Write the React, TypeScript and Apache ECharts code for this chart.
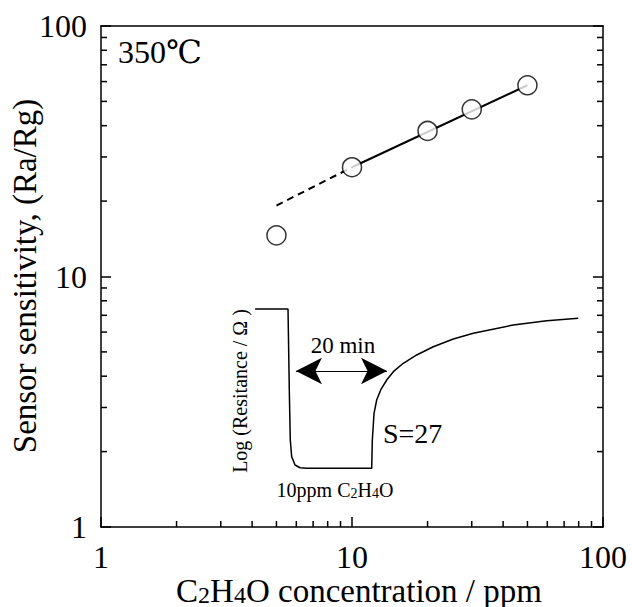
import React, { useEffect, useRef } from "react";
import * as echarts from "echarts";

// Measured sensitivity data
const concentration = [5, 10, 20, 30, 50];
const sensitivity = [14.6, 27.3, 38.1, 46.5, 58.0];
// Fit line (solid part and dashed extrapolation)
const fitSolidX = [10, 50];
const fitSolidY = [27.3, 58.0];
const fitDashedX = [5, 10];
const fitDashedY = [19.2, 27.3];
// Inset: schematic resistance response to 10 ppm C2H4O
const responseX = [4.11, 5.56, 5.574, 5.626, 5.677, 5.75, 5.93, 6.21, 6.6, 11.98, 12.05, 12.24, 12.54, 13.01, 13.75, 14.61, 16.01, 18.1, 21.08, 25.33, 30.43, 43.91, 59.67, 79.7];
const responseY = [7.42, 7.42, 7.42, 3.52, 2.225, 1.908, 1.768, 1.724, 1.715, 1.715, 2.225, 2.844, 3.214, 3.524, 3.862, 4.169, 4.503, 4.861, 5.245, 5.63, 5.934, 6.404, 6.66, 6.81];
// Arrow "20 min"
const arrowX = [5.98, 13.79];
const arrowY = 4.196;
// Axis ticks
const axisMin = 1;
const axisMax = 100;
const minorTicks = [2, 3, 4, 5, 6, 7, 8, 9, 20, 30, 40, 50, 60, 70, 80, 90];

const FONT = "'Liberation Serif', 'Times New Roman', serif";

export default function App() {
  const ref = useRef<HTMLDivElement>(null);
  useEffect(() => {
    if (!ref.current) return;
    const chart = echarts.init(ref.current, undefined, { renderer: "svg" });
    const axisLine = { show: true, lineStyle: { color: "#000", width: 1.5 } };
    const label = { fontSize: 32, fontFamily: FONT, color: "#000" };
    const tickLine = (dx: number, dy: number, mode: string) => (params: any, api: any) => {
      const v = mode === "x" ? api.value(0) : api.value(1);
      const p = mode === "x" ? api.coord([v, axisMin]) : mode === "l" ? api.coord([axisMin, v]) : api.coord([axisMax, v]);
      return {
        type: "line",
        shape: { x1: p[0], y1: p[1], x2: p[0] + dx, y2: p[1] + dy },
        style: { stroke: "#000", lineWidth: 1.5 },
      };
    };
    chart.setOption({
      animation: false,
      backgroundColor: "#fff",
      grid: { left: 101, right: 29, top: 26, bottom: 80 },
      xAxis: [
        {
          type: "log", logBase: 10, min: axisMin, max: axisMax, position: "bottom",
          axisLine, axisTick: { show: true, inside: true, length: 10, lineStyle: { color: "#000", width: 1.5 } },
          axisLabel: { ...label, margin: 14 }, splitLine: { show: false }, minorTick: { show: false },
        },
        {
          type: "log", logBase: 10, min: axisMin, max: axisMax, position: "top",
          axisLine, axisTick: { show: false }, axisLabel: { show: false }, splitLine: { show: false },
        },
      ],
      yAxis: [
        {
          type: "log", logBase: 10, min: axisMin, max: axisMax, position: "left",
          axisLine, axisTick: { show: true, inside: true, length: 10, lineStyle: { color: "#000", width: 1.5 } },
          axisLabel: { ...label, margin: 14 }, splitLine: { show: false },
        },
        {
          type: "log", logBase: 10, min: axisMin, max: axisMax, position: "right",
          axisLine, axisTick: { show: true, inside: true, length: 10, lineStyle: { color: "#000", width: 1.5 } },
          axisLabel: { show: false }, splitLine: { show: false },
        },
      ],
      series: [
        {
          type: "custom", silent: true, clip: false, xAxisIndex: 0, yAxisIndex: 0,
          data: minorTicks.map((v) => [v, axisMin]),
          renderItem: tickLine(0, -6, "x"),
        },
        {
          type: "custom", silent: true, clip: false, xAxisIndex: 0, yAxisIndex: 0,
          data: minorTicks.map((v) => [axisMin, v]),
          renderItem: tickLine(6, 0, "l"),
        },
        {
          type: "custom", silent: true, clip: false, xAxisIndex: 0, yAxisIndex: 0,
          data: minorTicks.map((v) => [axisMax, v]),
          renderItem: tickLine(-6, 0, "r"),
        },
        {
          type: "line", silent: true, showSymbol: false, xAxisIndex: 0, yAxisIndex: 0,
          data: responseX.map((x, i) => [x, responseY[i]]),
          lineStyle: { color: "#000", width: 1.5 },
          markLine: {
            silent: true,
            symbol: ["arrow", "arrow"],
            symbolSize: [20, 26],
            label: { show: false },
            lineStyle: { color: "#000", width: 1, type: "solid" },
            data: [[{ coord: [arrowX[0], arrowY] }, { coord: [arrowX[1], arrowY] }]],
          },
        },
        {
          type: "line", silent: true, showSymbol: false,
          data: fitDashedX.map((x, i) => [x, fitDashedY[i]]),
          lineStyle: { color: "#000", width: 2, type: [7, 5] },
        },
        {
          type: "line", silent: true, showSymbol: false,
          data: fitSolidX.map((x, i) => [x, fitSolidY[i]]),
          lineStyle: { color: "#000", width: 2 },
        },
        {
          type: "scatter", silent: true, z: 5,
          data: concentration.map((x, i) => [x, sensitivity[i]]),
          symbol: "circle", symbolSize: 19,
          itemStyle: { color: "#fff", borderColor: "#000", borderWidth: 1.5 },
        },
      ],
      graphic: [
        {
          type: "text", x: 118, y: 52,
          style: {
            text: "{a|350}{b|℃}", verticalAlign: "middle", align: "left", fill: "#000",
            rich: {
              a: { fontSize: 32, fontFamily: FONT, fill: "#000" },
              b: { fontSize: 32, fontFamily: "'DejaVu Serif', " + FONT, fill: "#000" },
            },
          },
        },
        {
          type: "text", x: 25, y: 276, rotation: Math.PI / 2,
          style: { text: "Sensor sensitivity, (Ra/Rg)", fontSize: 33, fontFamily: FONT, fill: "#000", align: "center", verticalAlign: "middle" },
        },
        {
          type: "text", x: 359, y: 590,
          style: {
            text: "{a|C}{s|2}{a|H}{s|4}{a|O concentration / ppm}",
            align: "center", verticalAlign: "middle", fill: "#000",
            rich: {
              a: { fontSize: 33, fontFamily: FONT, fill: "#000", verticalAlign: "bottom", lineHeight: 34 },
              s: { fontSize: 24, fontFamily: FONT, fill: "#000", verticalAlign: "bottom", lineHeight: 27 },
            },
          },
        },
        {
          type: "text", x: 343, y: 345,
          style: { text: "20 min", fontSize: 23, fontFamily: FONT, fill: "#000", align: "center", verticalAlign: "middle" },
        },
        {
          type: "text", x: 383, y: 433,
          style: { text: "S=27", fontSize: 28, fontFamily: FONT, fill: "#000", align: "left", verticalAlign: "middle" },
        },
        {
          type: "text", x: 335, y: 489,
          style: {
            text: "{a|10ppm C}{s|2}{a|H}{s|4}{a|O}",
            align: "center", verticalAlign: "middle", fill: "#000",
            rich: {
              a: { fontSize: 20, fontFamily: FONT, fill: "#000", verticalAlign: "bottom", lineHeight: 22 },
              s: { fontSize: 14, fontFamily: FONT, fill: "#000", verticalAlign: "bottom", lineHeight: 17 },
            },
          },
        },
        {
          type: "text", x: 240, y: 391, rotation: Math.PI / 2,
          style: { text: "Log (Resitance / Ω )", fontSize: 20, fontFamily: FONT, fill: "#000", align: "center", verticalAlign: "middle" },
        },
      ],
    });
    return () => chart.dispose();
  }, []);
  return <div ref={ref} style={{ position: "absolute", left: 0, top: 0, width: 632, height: 607 }} />;
}
